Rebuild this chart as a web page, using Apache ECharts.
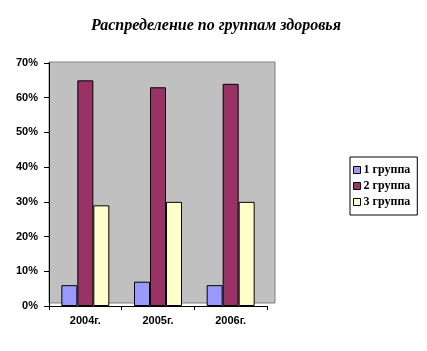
<!DOCTYPE html>
<html>
<head>
<meta charset="utf-8">
<script src="https://cdn.jsdelivr.net/npm/echarts@6/dist/echarts.min.js"></script>
<style>
	html, body {margin: 0; padding: 0; background: #fff;}
	#chart {width: 427px; height: 351px;}
</style>
</head>
<body>
<div id="chart"></div>
<script>
const years = ['2004г.', '2005г.', '2006г.']
const group1 = [6, 7, 6]
const group2 = [65, 63, 64]
const group3 = [29, 30, 30]
const seriesNames = ['1 группа', '2 группа', '3 группа']
const colors = ['#9999FF', '#993366', '#FFFFCC']

const chart = echarts.init(document.getElementById('chart'), null, {renderer: 'canvas'})

const makeBar = (name, data, color) => ({
	name,
	type: 'bar',
	data,
	barWidth: 16,
	barGap: '0%',
	itemStyle: {color, borderColor: '#000', borderWidth: 1}
})

chart.setOption({
	animation: false,
	title: {
		text: 'Распределение по группам здоровья',
		left: 211,
		textAlign: 'center',
		top: 13,
		textStyle: {
			fontFamily: 'Liberation Serif',
			fontStyle: 'italic',
			fontWeight: 'bold',
			fontSize: 16,
			color: '#000'
		}
	},
	// back wall of the old 3d plot area
	graphic: [{
		type: 'rect',
		z: -1,
		shape: {x: 49, y: 62, width: 226, height: 241},
		style: {fill: '#C0C0C0', stroke: '#808080', lineWidth: 1}
	}],
	legend: {
		orient: 'vertical',
		left: 350,
		top: 157,
		padding: [7, 7, 7, 3],
		itemGap: 4,
		itemWidth: 7,
		itemHeight: 7,
		borderColor: '#000',
		borderWidth: 1,
		icon: 'rect',
		data: seriesNames.map((name, i) => ({
			name,
			itemStyle: {color: colors[i], borderColor: '#000', borderWidth: 1}
		})),
		textStyle: {
			fontFamily: 'Liberation Serif',
			fontWeight: 'bold',
			fontSize: 12,
			color: '#000',
			padding: [0, 0, 0, -2]
		}
	},
	grid: {
		left: 49,
		right: 160,
		top: 63,
		bottom: 45
	},
	xAxis: {
		type: 'category',
		data: years,
		axisLine: {lineStyle: {color: '#000', width: 1}},
		axisTick: {show: true, length: 4, lineStyle: {color: '#000'}},
		axisLabel: {
			margin: 9,
			fontFamily: 'Liberation Sans',
			fontWeight: 'bold',
			fontSize: 11,
			color: '#000'
		}
	},
	yAxis: {
		type: 'value',
		min: 0,
		max: 70,
		interval: 10,
		splitLine: {show: false},
		axisLine: {show: true, lineStyle: {color: '#000', width: 1}},
		axisTick: {show: true, length: 5, lineStyle: {color: '#000'}},
		axisLabel: {
			formatter: '{value}%',
			margin: 11,
			fontFamily: 'Liberation Sans',
			fontWeight: 'bold',
			fontSize: 11,
			color: '#000'
		}
	},
	series: [
		makeBar(seriesNames[0], group1, colors[0]),
		makeBar(seriesNames[1], group2, colors[1]),
		makeBar(seriesNames[2], group3, colors[2])
	]
})
</script>
</body>
</html>
